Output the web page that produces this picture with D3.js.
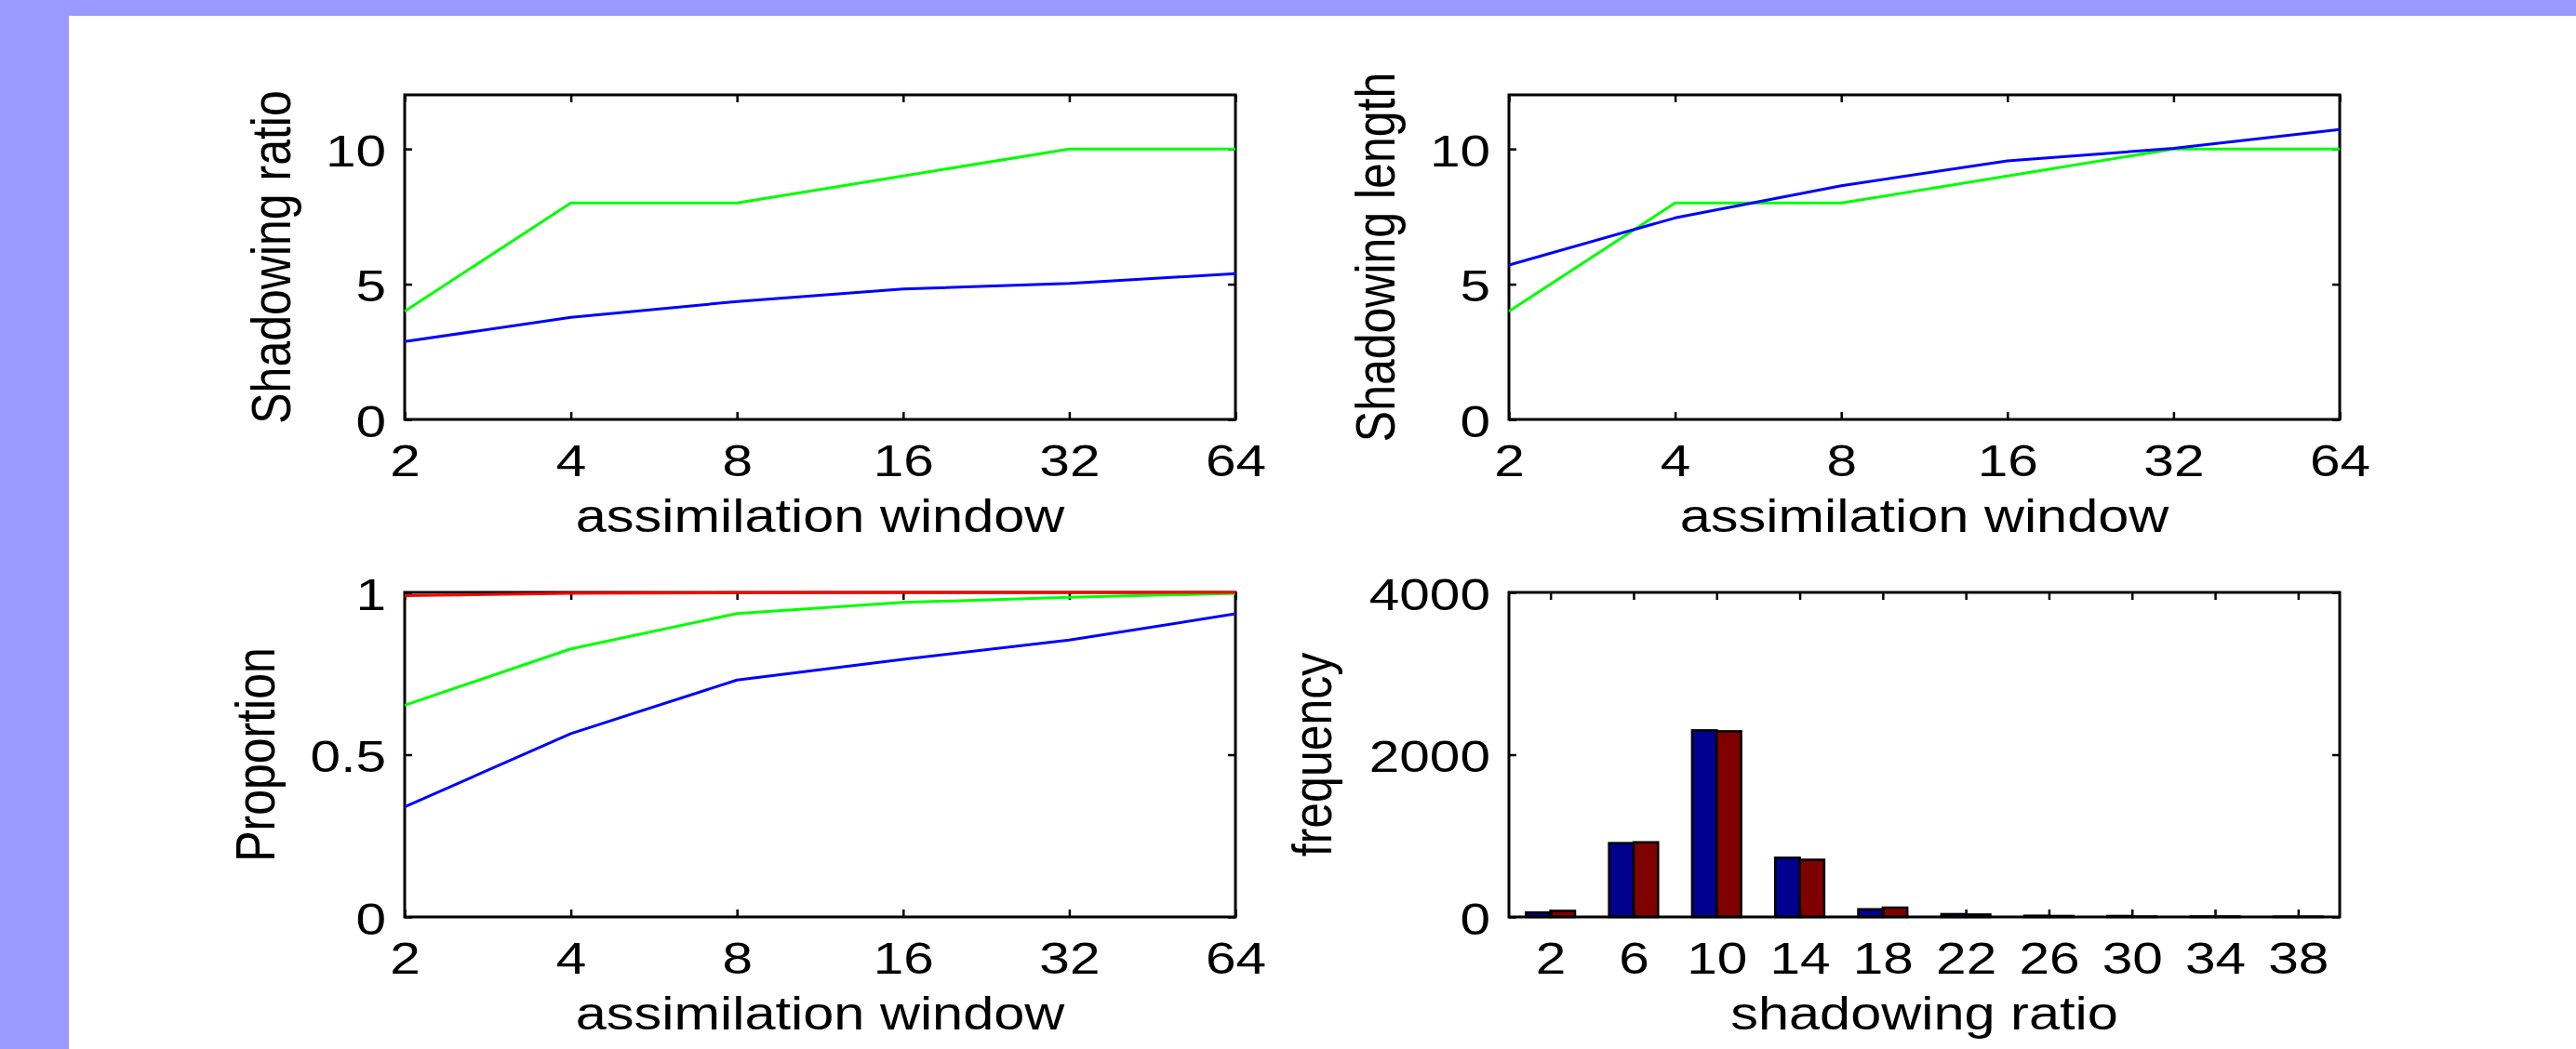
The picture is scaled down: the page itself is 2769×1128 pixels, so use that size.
<!DOCTYPE html>
<html>
<head>
<meta charset="utf-8">
<script src="https://cdn.jsdelivr.net/npm/d3@7/dist/d3.min.js"></script>
<style>
  html, body { margin: 0; padding: 0; background: #ffffff; }
  svg { display: block; }
  text { font-family: "Liberation Sans", Arial, Helvetica, sans-serif; fill: #000; }
</style>
</head>
<body>
<svg id="chart" width="2769" height="1128"></svg>
<script>
// ---------------- data ----------------
const windows = [2, 4, 8, 16, 32, 64];
const windowTicks = [2, 4, 8, 16, 32, 64];

const ratioGreen = [4, 8, 8, 9, 10, 10];
const ratioBlue = [2.88, 3.77, 4.36, 4.82, 5.03, 5.39];

const lengthBlue = [5.71, 7.45, 8.64, 9.56, 10.02, 10.72];
const lengthGreen = [4, 8, 8, 9, 10, 10];

const propRed = [0.99, 0.997, 0.999, 1, 1, 1];
const propGreen = [0.652, 0.826, 0.935, 0.969, 0.985, 0.997];
const propBlue = [0.339, 0.565, 0.730, 0.794, 0.853, 0.934];

const bins = [2, 6, 10, 14, 18, 22, 26, 30, 34, 38];
const freqBlue = [55, 910, 2300, 730, 95, 35, 15, 12, 6, 4];
const freqRed = [75, 920, 2288, 705, 115, 30, 12, 5, 6, 4];

const ratioTicks = [0, 5, 10];
const propTicks = [0, 0.5, 1];
const freqTicks = [0, 2000, 4000];

// ---------------- layout ----------------
const W = 2769, H = 1128;
const svg = d3.select("#chart");
svg.append("rect").attr("x", 0).attr("y", 0).attr("width", W).attr("height", H).attr("fill", "#9999ff");
svg.append("rect").attr("x", 74).attr("y", 17).attr("width", W - 74).attr("height", H - 17).attr("fill", "#ffffff");

const TICK_FS = 48, LABEL_FS = 50;
const TICK_SX = 1.22, LABEL_SX = 1.19;
const TICK_LEN = 8;

function makeAxes(box, x, y, xTicks, yTicks, yFmt, xlabel, ylabel, ylabelX) {
  const g = svg.append("g");
  const innerH = box.bottom - box.top, innerW = box.right - box.left;

  // bottom axis
  const gb = g.append("g").attr("transform", `translate(0,${box.bottom})`)
    .call(d3.axisBottom(x).tickValues(xTicks).tickFormat(d3.format("d")).tickSizeInner(-TICK_LEN).tickSizeOuter(0));
  // top axis
  const gt = g.append("g").attr("transform", `translate(0,${box.top})`)
    .call(d3.axisTop(x).tickValues(xTicks).tickFormat("").tickSizeInner(-TICK_LEN).tickSizeOuter(0));
  // left axis
  const gl = g.append("g").attr("transform", `translate(${box.left},0)`)
    .call(d3.axisLeft(y).tickValues(yTicks).tickFormat(yFmt).tickSizeInner(-TICK_LEN).tickSizeOuter(0));
  // right axis
  const gr = g.append("g").attr("transform", `translate(${box.right},0)`)
    .call(d3.axisRight(y).tickValues(yTicks).tickFormat("").tickSizeInner(-TICK_LEN).tickSizeOuter(0));

  [gb, gt, gl, gr].forEach(a => {
    a.select(".domain").remove();
    a.selectAll(".tick line").attr("stroke", "#000").attr("stroke-width", 2.5);
  });
  gt.selectAll("text").remove();
  gr.selectAll("text").remove();

  gb.selectAll("text")
    .attr("y", 61).attr("dy", 0).attr("x", 0)
    .attr("transform", `scale(${TICK_SX},1)`)
    .style("font-size", TICK_FS + "px")
    .style("font-family", '"Liberation Sans", Arial, sans-serif')
    .attr("fill", "#000");
  gl.selectAll("text")
    .attr("x", -20 / TICK_SX).attr("dy", 0).attr("y", 18)
    .attr("transform", `scale(${TICK_SX},1)`)
    .style("font-size", TICK_FS + "px")
    .style("font-family", '"Liberation Sans", Arial, sans-serif')
    .attr("fill", "#000");

  // box
  g.append("rect").attr("x", box.left).attr("y", box.top)
    .attr("width", innerW).attr("height", innerH)
    .attr("fill", "none").attr("stroke", "#000").attr("stroke-width", 3);

  // labels
  g.append("text")
    .attr("transform", `translate(${(box.left + box.right) / 2},${box.bottom + 121}) scale(${LABEL_SX},1)`)
    .attr("text-anchor", "middle")
    .style("font-size", LABEL_FS + "px")
    .text(xlabel);
  g.append("text")
    .attr("transform", `translate(${ylabelX},${(box.top + box.bottom) / 2}) scale(${LABEL_SX},1) rotate(-90)`)
    .attr("text-anchor", "middle")
    .style("font-size", LABEL_FS + "px")
    .text(ylabel);
  return g;
}

function linePanel(box, yDomain, yTicks, yFmt, series, xlabel, ylabel, ylabelX) {
  const x = d3.scaleLog().base(2).domain([2, 64]).range([box.left, box.right]);
  const y = d3.scaleLinear().domain(yDomain).range([box.bottom, box.top]);
  makeAxes(box, x, y, windowTicks, yTicks, yFmt, xlabel, ylabel, ylabelX);
  const line = d3.line().x((d, i) => x(windows[i])).y(d => y(d));
  series.forEach(s => {
    svg.append("path").datum(s.values)
      .attr("d", line).attr("fill", "none")
      .attr("stroke", s.color).attr("stroke-width", 3)
      .attr("stroke-linejoin", "round");
  });
}

const P1 = { left: 435, right: 1328, top: 102, bottom: 451 };
const P2 = { left: 1622, right: 2515, top: 102, bottom: 451 };
const P3 = { left: 435, right: 1328, top: 637, bottom: 986 };
const P4 = { left: 1622, right: 2515, top: 637, bottom: 986 };

linePanel(P1, [0, 12], ratioTicks, d3.format("d"),
  [{ values: ratioGreen, color: "#00ff00" }, { values: ratioBlue, color: "#0000ff" }],
  "assimilation window", "Shadowing ratio", 312);

linePanel(P2, [0, 12], ratioTicks, d3.format("d"),
  [{ values: lengthGreen, color: "#00ff00" }, { values: lengthBlue, color: "#0000ff" }],
  "assimilation window", "Shadowing length", 1499);

linePanel(P3, [0, 1], propTicks, d => (d === 0.5 ? "0.5" : String(d)),
  [{ values: propBlue, color: "#0000ff" }, { values: propGreen, color: "#00ff00" }, { values: propRed, color: "#ff0000" }],
  "assimilation window", "Proportion", 295);

// ---------------- bar panel ----------------
(function () {
  const box = P4;
  const x = d3.scaleLinear().domain([0, 40]).range([box.left, box.right]);
  const y = d3.scaleLinear().domain([0, 4000]).range([box.bottom, box.top]);
  const bw = (x(4) - x(0)) * 0.295;
  const gBars = svg.append("g");
  const seriesList = [
    { values: freqBlue, color: "#00008f", offset: -1 },
    { values: freqRed, color: "#800000", offset: 0 }
  ];
  seriesList.forEach(s => {
    gBars.selectAll(null).data(s.values).enter().append("rect")
      .attr("x", (d, i) => x(bins[i]) + s.offset * bw)
      .attr("y", d => y(d))
      .attr("width", bw)
      .attr("height", d => y(0) - y(d))
      .attr("fill", s.color)
      .attr("stroke", "#000").attr("stroke-width", 2.5);
  });
  makeAxes(box, x, y, bins, freqTicks, d3.format("d"), "shadowing ratio", "frequency", 1431);
})();
</script>
</body>
</html>
